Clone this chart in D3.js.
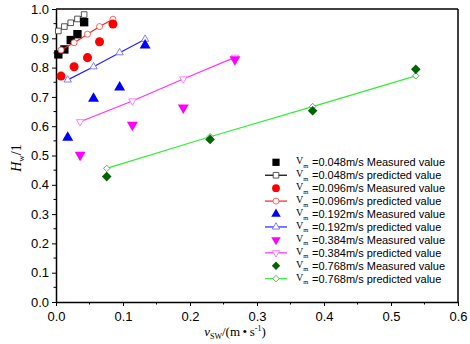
<!DOCTYPE html>
<html>
<head>
<meta charset="utf-8">
<script src="https://cdn.jsdelivr.net/npm/d3@7"></script>
<style>
  body { margin: 0; background: #fff; }
  svg { display: block; }
</style>
</head>
<body>
<div id="chart"></div>
<script>
// vsw (m/s) and Hw
const x048 = [0.0035, 0.0125, 0.022, 0.032, 0.042];
const meas048 = [0.845, 0.862, 0.894, 0.914, 0.955];
const pred048 = [0.925, 0.940, 0.953, 0.966, 0.981];

const x096 = [0.0075, 0.027, 0.047, 0.065, 0.085];
const meas096 = [0.771, 0.803, 0.834, 0.888, 0.949];
const pred096 = [0.860, 0.885, 0.914, 0.940, 0.965];

const x192 = [0.0175, 0.056, 0.095, 0.133];
const meas192 = [0.561, 0.694, 0.733, 0.876];
const pred192 = [0.758, 0.803, 0.851, 0.897];

const x384 = [0.036, 0.114, 0.19, 0.267];
const meas384 = [0.502, 0.604, 0.663, 0.828];
const pred384 = [0.615, 0.686, 0.761, 0.835];

const x768 = [0.0757, 0.230, 0.383, 0.537];
const meas768 = [0.428, 0.555, 0.653, 0.794];
const pred768 = [0.456, 0.564, 0.667, 0.772];

const speeds = ["0.048", "0.096", "0.192", "0.384", "0.768"];
const xTicks = [0, 0.1, 0.2, 0.3, 0.4, 0.5, 0.6];
const yTicks = [0, 0.1, 0.2, 0.3, 0.4, 0.5, 0.6, 0.7, 0.8, 0.9, 1.0];

const series = [
    { xs: x048, meas: meas048, pred: pred048, sym: d3.symbolSquare, size: 70, rot: 0,
      fill: "#000000", line: "#000000", open: "#444444" },
    { xs: x096, meas: meas096, pred: pred096, sym: d3.symbolCircle, size: 64, rot: 0,
      fill: "#ff0000", line: "#ff2020", open: "#ff5050" },
    { xs: x192, meas: meas192, pred: pred192, sym: d3.symbolTriangle, size: 52, rot: 0,
      fill: "#0000ff", line: "#2020ff", open: "#7070ff" },
    { xs: x384, meas: meas384, pred: pred384, sym: d3.symbolTriangle, size: 52, rot: 180,
      fill: "#ff00ff", line: "#ff30ff", open: "#ff70ff" },
    { xs: x768, meas: meas768, pred: pred768, sym: d3.symbolSquare, size: 46, rot: 45,
      fill: "#006400", line: "#33ee33", open: "#55aa55" }
];

const W = 470, H = 344;
const margin = { top: 9, right: 12, bottom: 42, left: 56 };
const width = W - margin.left - margin.right;
const height = H - margin.top - margin.bottom;

const svg = d3.select("#chart").append("svg")
    .attr("width", W)
    .attr("height", H);

const g = svg.append("g")
    .attr("transform", `translate(${margin.left}, ${margin.top})`);

const x = d3.scaleLinear().domain([0, 0.6]).range([0, width]);
const y = d3.scaleLinear().domain([0, 1]).range([height, 0]);

// frame
g.append("line").attr("x1", 0).attr("x2", width).attr("y1", 0).attr("y2", 0)
    .attr("stroke", "#000").attr("stroke-width", 1.5);
g.append("line").attr("x1", width).attr("x2", width).attr("y1", 0).attr("y2", height)
    .attr("stroke", "#000").attr("stroke-width", 1.5);

// minor ticks
const xMinor = d3.range(0.05, 0.6, 0.1);
const yMinor = d3.range(0.05, 1, 0.1);
g.selectAll(".xminor").data(xMinor).join("line")
    .attr("x1", d => x(d)).attr("x2", d => x(d))
    .attr("y1", height).attr("y2", height + 2.5)
    .attr("stroke", "#000");
g.selectAll(".yminor").data(yMinor).join("line")
    .attr("x1", 0).attr("x2", -2.5)
    .attr("y1", d => y(d)).attr("y2", d => y(d))
    .attr("stroke", "#000");

const xAxis = g.append("g")
    .attr("transform", `translate(0, ${height})`)
    .call(d3.axisBottom(x).tickValues(xTicks).tickFormat(d3.format(".1f")).tickSize(4).tickSizeOuter(0));
const yAxis = g.append("g")
    .call(d3.axisLeft(y).tickValues(yTicks).tickFormat(d3.format(".1f")).tickSize(4).tickSizeOuter(0));

[xAxis, yAxis].forEach(a => {
    a.select(".domain").attr("stroke-width", 1.5);
    a.selectAll("text")
        .style("font-family", "Arial, 'Liberation Sans', sans-serif")
        .style("font-size", "13px")
        .attr("fill", "#000");
});
xAxis.selectAll("text").attr("dy", "0.9em");
yAxis.selectAll("text").attr("x", -7);

// series
series.forEach(s => {
    const predPts = s.xs.map((v, i) => [v, s.pred[i]]);
    const measPts = s.xs.map((v, i) => [v, s.meas[i]]);

    g.append("path")
        .datum(predPts)
        .attr("fill", "none")
        .attr("stroke", s.line)
        .attr("stroke-width", 1.2)
        .attr("d", d3.line().x(d => x(d[0])).y(d => y(d[1])));

    g.selectAll(null).data(predPts).join("path")
        .attr("d", d3.symbol().type(s.sym).size(s.size * 0.45))
        .attr("transform", d => `translate(${x(d[0])}, ${y(d[1])}) rotate(${s.rot})`)
        .attr("fill", "#fff")
        .attr("stroke", s.open)
        .attr("stroke-width", 0.9);

    g.selectAll(null).data(measPts).join("path")
        .attr("d", d3.symbol().type(s.sym).size(s.size))
        .attr("transform", d => `translate(${x(d[0])}, ${y(d[1])}) rotate(${s.rot})`)
        .attr("fill", s.fill);
});

// legend
const legend = svg.append("g").attr("transform", "translate(0, 162.3)");
const rowH = 12.93;
series.forEach((s, i) => {
    ["Measured value", "predicted value"].forEach((label, j) => {
        const row = legend.append("g")
            .attr("transform", `translate(0, ${(i * 2 + j) * rowH})`);
        if (j === 0) {
            row.append("path")
                .attr("d", d3.symbol().type(s.sym).size(s.size * 0.75))
                .attr("transform", `translate(276, 0) rotate(${s.rot})`)
                .attr("fill", s.fill);
        } else {
            row.append("line")
                .attr("x1", 265).attr("x2", 287).attr("y1", 0).attr("y2", 0)
                .attr("stroke", s.line).attr("stroke-width", 1.2);
            row.append("path")
                .attr("d", d3.symbol().type(s.sym).size(s.size * 0.45))
                .attr("transform", `translate(276, 0) rotate(${s.rot})`)
                .attr("fill", "#fff")
                .attr("stroke", s.open)
                .attr("stroke-width", 0.9);
        }
        const t = row.append("text")
            .attr("y", 4)
            .attr("fill", "#000");
        t.append("tspan")
            .style("font-family", "'Liberation Serif', 'Times New Roman', serif")
            .style("font-size", "10px")
            .attr("x", 296)
            .attr("dy", -2)
            .text("V");
        t.append("tspan")
            .style("font-family", "'Liberation Serif', serif")
            .style("font-size", "6.5px")
            .attr("dy", 3.5)
            .text("m");
        t.append("tspan")
            .style("font-family", "Arial, 'Liberation Sans', sans-serif")
            .style("font-size", "11px")
            .attr("x", 312)
            .attr("dy", -1.5)
            .text(`=${speeds[i]}m/s ${label}`);
    });
});

// axis titles
const yLab = svg.append("text")
    .attr("transform", "translate(21, 158) rotate(-90)")
    .attr("text-anchor", "middle")
    .style("font-family", "'Liberation Serif', 'Times New Roman', serif")
    .style("font-size", "14px")
    .attr("fill", "#000");
yLab.append("tspan").style("font-style", "italic").text("H");
yLab.append("tspan").style("font-size", "9px").attr("dy", 3).text("w");
yLab.append("tspan").attr("dy", -3).text("/1");

const xLab = svg.append("text")
    .attr("x", 235)
    .attr("y", 336)
    .attr("text-anchor", "middle")
    .style("font-family", "'Liberation Serif', 'Times New Roman', serif")
    .style("font-size", "13px")
    .attr("fill", "#000");
xLab.append("tspan").style("font-style", "italic").text("v");
xLab.append("tspan").style("font-size", "8px").attr("dy", 3).text("SW");
xLab.append("tspan").attr("dy", -3).text("/(m\u2009\u2022\u2009s");
xLab.append("tspan").style("font-size", "8px").attr("dy", -5).text("-1");
xLab.append("tspan").attr("dy", 5).text(")");
</script>
</body>
</html>
